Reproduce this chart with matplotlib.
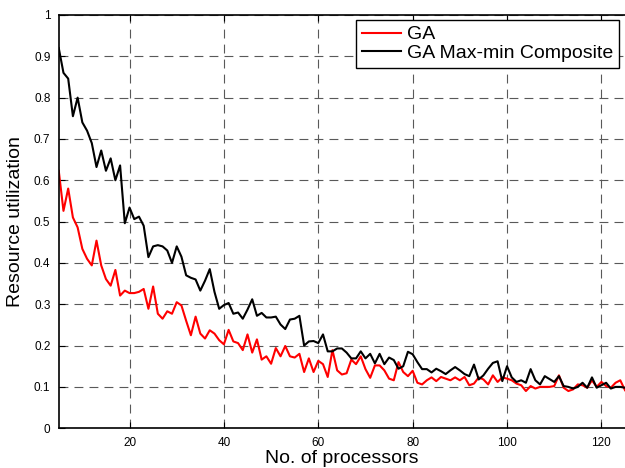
import matplotlib
matplotlib.use('Agg')
import matplotlib.pyplot as plt

# processors 5..125
processors = list(range(5, 126))

ga = [0.623, 0.526, 0.58, 0.51, 0.486, 0.434, 0.41, 0.394, 0.454, 0.394,
      0.361, 0.345, 0.383, 0.321, 0.333, 0.327, 0.327, 0.33, 0.337, 0.289,
      0.343, 0.277, 0.265, 0.283, 0.277, 0.305, 0.297, 0.26, 0.225, 0.27,
      0.229, 0.217, 0.237, 0.229, 0.213, 0.203, 0.238, 0.21, 0.206, 0.189,
      0.227, 0.183, 0.215, 0.166, 0.174, 0.156, 0.194, 0.174, 0.199, 0.174,
      0.171, 0.18, 0.136, 0.169, 0.136, 0.163, 0.155, 0.124, 0.189, 0.14,
      0.13, 0.133, 0.166, 0.155, 0.174, 0.143, 0.122, 0.152, 0.152, 0.14,
      0.12, 0.116, 0.16, 0.136, 0.126, 0.139, 0.11, 0.106, 0.116, 0.123,
      0.114, 0.124, 0.12, 0.116, 0.123, 0.116, 0.124, 0.104, 0.108, 0.123,
      0.118, 0.106, 0.128, 0.112, 0.123, 0.12, 0.116, 0.108, 0.104, 0.09,
      0.102, 0.096, 0.1, 0.1, 0.1, 0.102, 0.128, 0.098, 0.09, 0.094,
      0.106, 0.104, 0.098, 0.116, 0.1, 0.112, 0.102, 0.098, 0.11, 0.116,
      0.092]

ga_maxmin = [0.92, 0.86, 0.846, 0.755, 0.80, 0.74, 0.72, 0.69, 0.632, 0.672,
             0.623, 0.653, 0.60, 0.636, 0.496, 0.534, 0.506, 0.512, 0.49, 0.414,
             0.44, 0.443, 0.44, 0.43, 0.40, 0.44, 0.415, 0.37, 0.364, 0.36,
             0.333, 0.357, 0.385, 0.33, 0.289, 0.298, 0.303, 0.277, 0.28, 0.265,
             0.287, 0.312, 0.272, 0.279, 0.268, 0.268, 0.27, 0.251, 0.24, 0.263,
             0.265, 0.272, 0.20, 0.21, 0.211, 0.206, 0.227, 0.186, 0.186, 0.193,
             0.193, 0.183, 0.169, 0.169, 0.186, 0.169, 0.18, 0.157, 0.18, 0.155,
             0.171, 0.165, 0.144, 0.15, 0.185, 0.179, 0.16, 0.143, 0.143, 0.135,
             0.144, 0.138, 0.131, 0.14, 0.148, 0.14, 0.131, 0.126, 0.154, 0.118,
             0.128, 0.144, 0.158, 0.162, 0.114, 0.15, 0.123, 0.112, 0.116, 0.11,
             0.143, 0.116, 0.106, 0.126, 0.119, 0.112, 0.126, 0.102, 0.1, 0.096,
             0.1, 0.11, 0.098, 0.123, 0.098, 0.104, 0.11, 0.096, 0.1, 0.1,
             0.098]

x_ticks = [20, 40, 60, 80, 100, 120]
y_ticks = [0, 0.1, 0.2, 0.3, 0.4, 0.5, 0.6, 0.7, 0.8, 0.9, 1]
y_tick_labels = ['0', '0.1', '0.2', '0.3', '0.4', '0.5', '0.6', '0.7', '0.8', '0.9', '1']

plt.rcParams['font.family'] = ['Liberation Sans', 'DejaVu Sans']

fig = plt.figure(figsize=(6.25, 4.68), dpi=100)
ax = fig.add_axes([0.094, 0.085, 0.906, 0.883])

ax.plot(processors, ga, color='#ff0000', linewidth=1.5, label='GA')
ax.plot(processors, ga_maxmin, color='black', linewidth=1.5,
        label='GA Max-min Composite')

ax.set_xlim(5, 125)
ax.set_ylim(0, 1)
ax.set_xticks(x_ticks)
ax.set_yticks(y_ticks)
ax.set_yticklabels(y_tick_labels)
ax.tick_params(direction='in', length=4, labelsize=8.5, top=True, pad=6)

ax.grid(True, color='0.35', linestyle=(0, (8, 5.5)), linewidth=0.8)
ax.set_axisbelow(True)

for s in ['left', 'bottom', 'top']:
    ax.spines[s].set_linewidth(1.2)
ax.spines['right'].set_visible(False)

ax.set_xlabel('No. of processors', fontsize=14, labelpad=1)
ax.set_ylabel('Resource utilization', fontsize=14, labelpad=7)

leg = ax.legend(loc='upper right', fontsize=14, fancybox=False,
                framealpha=1, borderpad=0.3, labelspacing=0.05,
                handlelength=2.0, handletextpad=0.3, borderaxespad=0,
                bbox_to_anchor=(0.989, 0.988))
leg.get_frame().set_edgecolor('black')
leg.get_frame().set_linewidth(1.0)

fig.savefig('out.png', dpi=100)
